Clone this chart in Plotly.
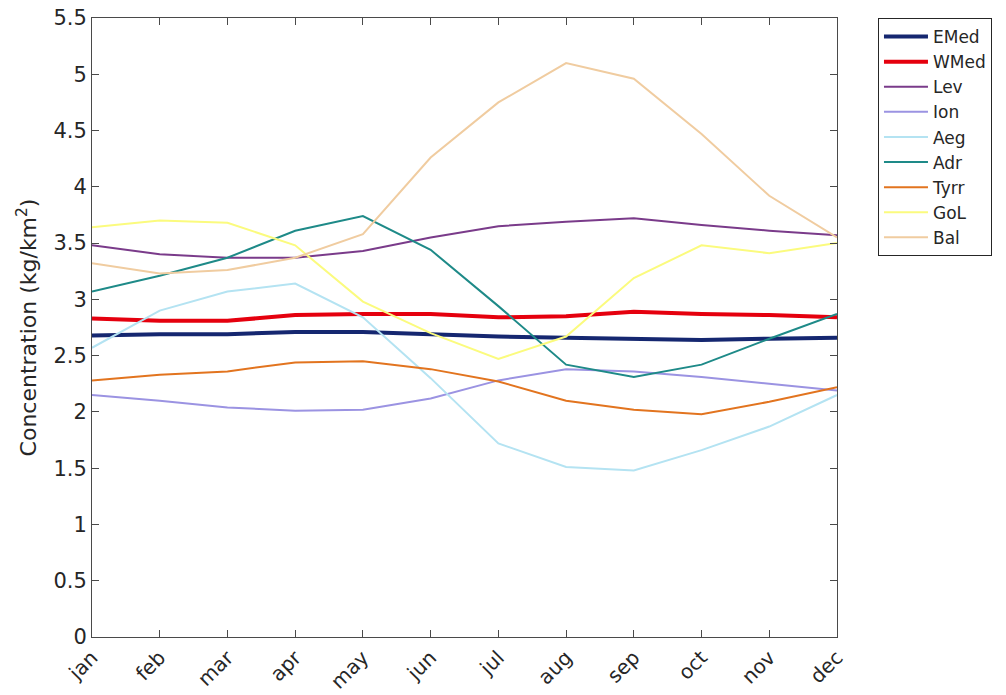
import plotly.graph_objects as go

months = ["jan", "feb", "mar", "apr", "may", "jun", "jul", "aug", "sep", "oct", "nov", "dec"]

emed = [2.68, 2.69, 2.69, 2.71, 2.71, 2.69, 2.67, 2.66, 2.65, 2.64, 2.65, 2.66]
wmed = [2.83, 2.81, 2.81, 2.86, 2.87, 2.87, 2.84, 2.85, 2.89, 2.87, 2.86, 2.84]
lev = [3.48, 3.40, 3.37, 3.37, 3.43, 3.55, 3.65, 3.69, 3.72, 3.66, 3.61, 3.57]
ion = [2.15, 2.10, 2.04, 2.01, 2.02, 2.12, 2.28, 2.38, 2.36, 2.31, 2.25, 2.19]
aeg = [2.57, 2.90, 3.07, 3.14, 2.84, 2.30, 1.72, 1.51, 1.48, 1.66, 1.87, 2.15]
adr = [3.07, 3.21, 3.37, 3.61, 3.74, 3.44, 2.94, 2.42, 2.31, 2.42, 2.65, 2.87]
tyrr = [2.28, 2.33, 2.36, 2.44, 2.45, 2.38, 2.27, 2.10, 2.02, 1.98, 2.09, 2.22]
gol = [3.64, 3.70, 3.68, 3.48, 2.98, 2.70, 2.47, 2.67, 3.19, 3.48, 3.41, 3.50]
bal = [3.32, 3.23, 3.26, 3.37, 3.58, 4.26, 4.75, 5.10, 4.96, 4.47, 3.92, 3.55]

series = [
    ("EMed", emed, "#152770", 4),
    ("WMed", wmed, "#e5000e", 4),
    ("Lev", lev, "#7a3b8a", 2),
    ("Ion", ion, "#9b93e2", 2),
    ("Aeg", aeg, "#b4e3f2", 2),
    ("Adr", adr, "#1e8a88", 2),
    ("Tyrr", tyrr, "#e2741f", 2),
    ("GoL", gol, "#fbfb7e", 2),
    ("Bal", bal, "#f0cca0", 2),
]

yticks = [0, 0.5, 1, 1.5, 2, 2.5, 3, 3.5, 4, 4.5, 5, 5.5]
ytext = ["0", "0.5", "1", "1.5", "2", "2.5", "3", "3.5", "4", "4.5", "5", "5.5"]

fig = go.Figure()
for name, vals, color, w in series:
    fig.add_trace(go.Scatter(x=list(range(12)), y=vals, mode="lines", name=name,
                             line=dict(color=color, width=w)))

axcol = "#4a4a4a"
font = "DejaVu Sans"
fig.update_layout(
    width=1006, height=695,
    margin=dict(l=92, r=169, t=18, b=58, autoexpand=False),
    paper_bgcolor="white", plot_bgcolor="white",
    font=dict(family=font, color="#262626", size=21),
    showlegend=True,
    legend=dict(x=1.055, y=1.0, xanchor="left", yanchor="top",
                bordercolor="#262626", borderwidth=1, bgcolor="white",
                font=dict(size=17, family=font, color="#262626"),
                tracegroupgap=0, itemwidth=44),
    xaxis=dict(range=[0, 11], tickmode="array", tickvals=list(range(12)), ticktext=months,
               tickangle=-45, ticks="inside", ticklen=7, tickcolor=axcol,
               showline=True, linecolor=axcol, linewidth=1, mirror="ticks",
               showgrid=False, zeroline=False, tickfont=dict(size=20), automargin=False,
               ticklabeloverflow="allow"),
    yaxis=dict(range=[0, 5.5], tickmode="array", tickvals=yticks, ticktext=ytext,
               ticks="inside", ticklen=7, tickcolor=axcol,
               showline=True, linecolor=axcol, linewidth=1, mirror="ticks",
               showgrid=False, zeroline=False, tickfont=dict(size=21), automargin=False,
               ticklabeloverflow="allow",
               title=dict(text="Concentration (kg/km<sup>2</sup>)", font=dict(size=22), standoff=10)),
)

fig.write_html("out.html",
               config={"displayModeBar": False},
               post_script="document.body.style.margin='0';document.body.style.overflow='hidden';")
